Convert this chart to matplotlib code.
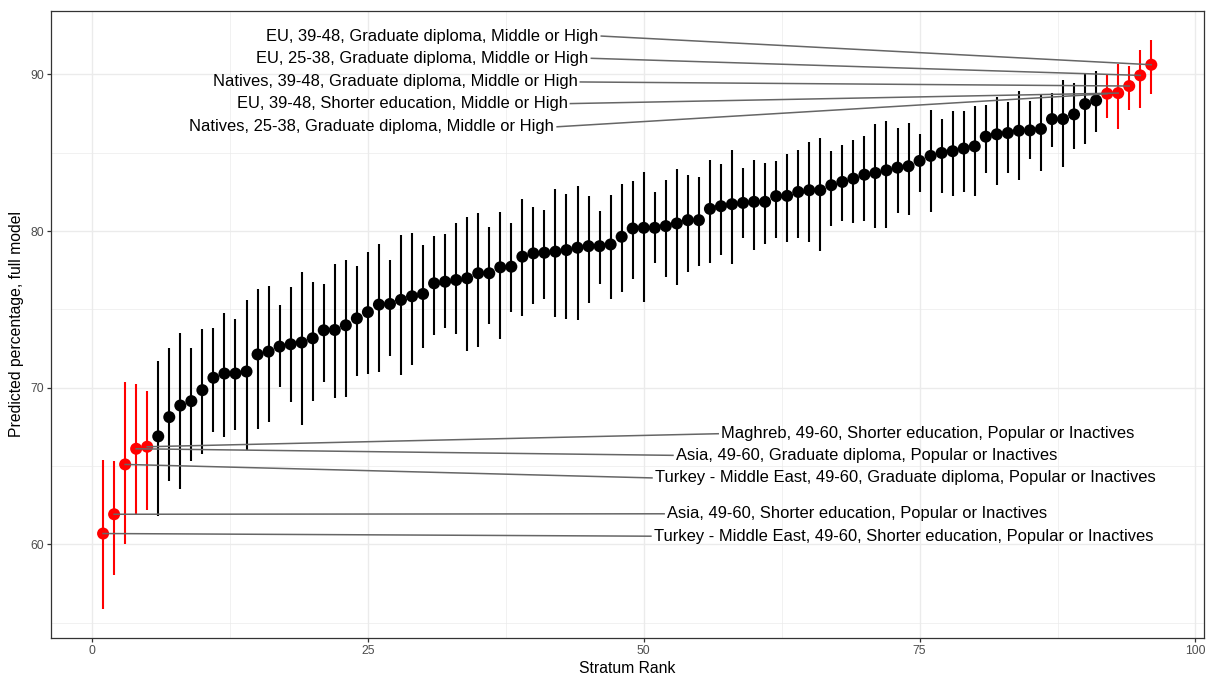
import matplotlib
matplotlib.use("Agg")
import matplotlib.pyplot as plt
import numpy as np

plt.rcParams['font.family'] = ['Liberation Sans', 'DejaVu Sans']

# predicted percentage per stratum, sorted by rank (1..96)
est = [60.70, 61.93, 65.11, 66.11, 66.24, 66.90, 68.13, 68.87, 69.15, 69.85,
       70.64, 70.91, 70.91, 71.04, 72.13, 72.31, 72.63, 72.78, 72.89, 73.16,
       73.67, 73.69, 73.99, 74.43, 74.83, 75.31, 75.35, 75.61, 75.84, 75.99,
       76.67, 76.77, 76.88, 76.99, 77.31, 77.31, 77.69, 77.73, 78.37, 78.58,
       78.62, 78.69, 78.79, 78.94, 79.04, 79.04, 79.15, 79.64, 80.17, 80.21,
       80.21, 80.32, 80.49, 80.70, 80.70, 81.42, 81.59, 81.72, 81.80, 81.87,
       81.87, 82.23, 82.25, 82.50, 82.61, 82.61, 82.93, 83.14, 83.35, 83.60,
       83.71, 83.88, 84.05, 84.14, 84.48, 84.80, 84.99, 85.10, 85.27, 85.41,
       86.03, 86.18, 86.26, 86.41, 86.43, 86.52, 87.15, 87.15, 87.45, 88.11,
       88.34, 88.77, 88.81, 89.26, 89.94, 90.62]
lower = [55.86, 58.04, 60.00, 61.97, 62.19, 61.85, 64.03, 63.55, 65.35, 65.75,
         67.15, 66.86, 67.30, 66.05, 67.37, 67.79, 70.04, 69.07, 67.60, 69.17,
         70.34, 69.38, 69.40, 70.78, 70.87, 71.00, 72.04, 70.81, 71.48, 72.57,
         73.36, 73.80, 73.42, 72.38, 72.63, 74.08, 73.12, 74.82, 74.57, 75.33,
         75.69, 74.54, 74.41, 74.33, 75.39, 76.62, 75.67, 76.10, 76.92, 75.46,
         77.94, 77.09, 76.56, 77.37, 77.77, 77.94, 78.47, 77.90, 79.59, 78.79,
         79.17, 79.59, 79.32, 79.59, 79.30, 78.75, 80.34, 80.64, 80.49, 80.64,
         80.21, 80.17, 81.13, 81.04, 82.50, 81.23, 82.46, 82.23, 82.50, 82.25,
         83.71, 82.95, 83.71, 83.25, 84.59, 83.84, 85.37, 84.10, 85.27, 85.54,
         86.33, 87.21, 86.52, 87.73, 87.84, 88.77]
upper = [65.41, 65.35, 70.40, 70.25, 69.79, 71.72, 72.55, 73.52, 72.55, 73.76,
         73.80, 74.78, 74.39, 75.63, 76.31, 76.48, 75.29, 76.41, 77.41, 76.78,
         76.62, 77.92, 78.13, 77.77, 78.64, 79.21, 78.13, 79.78, 79.89, 79.11,
         79.72, 79.81, 80.49, 80.87, 81.13, 80.28, 81.23, 80.49, 82.03, 81.55,
         81.34, 82.68, 82.36, 82.89, 82.21, 81.30, 82.32, 82.99, 83.20, 83.78,
         82.47, 83.25, 83.95, 83.57, 83.46, 84.52, 84.31, 85.20, 84.06, 84.52,
         84.35, 84.46, 84.90, 85.16, 85.69, 85.95, 85.10, 85.48, 85.80, 86.07,
         86.82, 87.01, 86.56, 86.93, 86.22, 87.73, 87.15, 87.69, 87.64, 87.96,
         88.03, 88.54, 88.24, 88.92, 88.28, 88.66, 88.81, 89.66, 89.45, 90.09,
         90.19, 89.94, 90.64, 90.53, 91.57, 92.23]

# labelled strata (5 lowest, 5 highest)
top_ranks = [96, 95, 94, 93, 92]
top_labels = ["EU, 39-48, Graduate diploma, Middle or High",
              "EU, 25-38, Graduate diploma, Middle or High",
              "Natives, 39-48, Graduate diploma, Middle or High",
              "EU, 39-48, Shorter education, Middle or High",
              "Natives, 25-38, Graduate diploma, Middle or High"]
bottom_ranks = [5, 4, 3, 2, 1]
bottom_labels = ["Maghreb, 49-60, Shorter education, Popular or Inactives",
                 "Asia, 49-60, Graduate diploma, Popular or Inactives",
                 "Turkey - Middle East, 49-60, Graduate diploma, Popular or Inactives",
                 "Asia, 49-60, Shorter education, Popular or Inactives",
                 "Turkey - Middle East, 49-60, Shorter education, Popular or Inactives"]

# where the repelled labels ended up (data coords)
top_pos = [(45.9, 92.45), (45.0, 91.03), (44.0, 89.52), (43.1, 88.14), (41.9, 86.66)]
bottom_pos = [(57.0, 67.07), (52.9, 65.69), (51.0, 64.25), (52.1, 61.96), (50.9, 60.53)]


def main():
    rank = np.arange(1, len(est) + 1)
    est_a = np.array(est)
    lo = np.array(lower)
    hi = np.array(upper)
    flagged = (rank <= 5) | (rank > len(est) - 5)
    colors = np.where(flagged, 'red', 'black')

    fig = plt.figure(figsize=(12.15, 6.78), dpi=100)
    ax = fig.add_axes([0.0417, 0.0594, 0.949, 0.9244])

    ax.vlines(rank, lo, hi, colors=colors, linewidth=1.5, zorder=3)
    ax.scatter(rank, est_a, c=colors, s=75, zorder=4, linewidths=0)

    for r, lab, (tx, ty) in zip(top_ranks, top_labels, top_pos):
        ax.plot([r, tx + 0.25], [est[r - 1], ty], color='#666666', lw=1.1, zorder=5)
        ax.text(tx, ty, lab, ha='right', va='center', fontsize=11.9, zorder=6)
    for r, lab, (tx, ty) in zip(bottom_ranks, bottom_labels, bottom_pos):
        ax.plot([r, tx - 0.25], [est[r - 1], ty], color='#666666', lw=1.1, zorder=5)
        ax.text(tx, ty, lab, ha='left', va='center', fontsize=11.9, zorder=6)

    ax.set_xlim(-3.75, 100.75)
    ax.set_ylim(54.05, 94.05)
    ax.set_xticks([0, 25, 50, 75, 100])
    ax.set_xticks([12.5, 37.5, 62.5, 87.5], minor=True)
    ax.set_yticks([60, 70, 80, 90])
    ax.set_yticks([55, 65, 75, 85], minor=True)
    ax.grid(which='major', color='#EBEBEB', lw=1.0, zorder=0)
    ax.grid(which='minor', color='#EBEBEB', lw=0.5, zorder=0)
    ax.set_axisbelow(True)
    for s in ax.spines.values():
        s.set_color('#333333')
        s.set_linewidth(0.9)
    ax.tick_params(which='major', length=3, width=0.9, color='#333333',
                   labelcolor='#4D4D4D', labelsize=8.8, pad=2)
    ax.tick_params(which='minor', length=0)

    ax.set_xlabel("Stratum Rank", fontsize=11.3, labelpad=3)
    ax.set_ylabel("Predicted percentage, full model", fontsize=11.3, labelpad=4)

    fig.savefig("out.png", dpi=100)


if __name__ == "__main__":
    main()
